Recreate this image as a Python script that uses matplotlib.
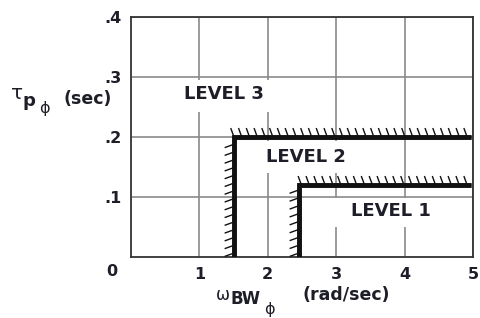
import matplotlib
matplotlib.use("Agg")
import matplotlib.pyplot as plt
import matplotlib.patheffects as pe
from matplotlib.patches import Rectangle

# ---- data ----
x_ticks = [1, 2, 3, 4, 5]
x_tick_labels = ["1", "2", "3", "4", "5"]
y_ticks = [0.1, 0.2, 0.3, 0.4]
y_tick_labels = [".1", ".2", ".3", ".4"]

level2_x = [1.5, 1.5, 4.97]
level2_y = [0.0, 0.20, 0.20]
level1_x = [2.45, 2.45, 4.97]
level1_y = [0.0, 0.12, 0.12]

level_labels = ["LEVEL 3", "LEVEL 2", "LEVEL 1"]
level_label_x = [1.36, 2.56, 3.80]
level_label_y = [0.271, 0.167, 0.0765]

TXT = "#1e1e28"
W, H = 481, 318

fig = plt.figure(figsize=(W / 100, H / 100), dpi=100)
ax = fig.add_axes([131 / W, 1 - 257 / H, (473 - 131) / W, (257 - 17) / H])
ax.set_xlim(0, 5)
ax.set_ylim(0, 0.4)
ax.set_xticks(x_ticks)
ax.set_xticklabels(x_tick_labels)
ax.set_yticks(y_ticks)
ax.set_yticklabels(y_tick_labels)
ax.tick_params(axis="x", length=0, pad=7.5, labelsize=11.5, labelcolor=TXT)
ax.tick_params(axis="y", length=0, pad=6.5, labelsize=11.5, labelcolor=TXT)
for lab in ax.get_xticklabels() + ax.get_yticklabels():
    lab.set_fontweight("bold")
ax.set_axisbelow(True)
ax.grid(True, color="#8a8a8a", linewidth=1.2)
for sp in ax.spines.values():
    sp.set_color("#333333")
    sp.set_linewidth(1.3)

# white backgrounds behind the level labels (hide grid)
for (x0, y0, x1, y1) in [(0.54, 0.2417, 2.18, 0.295),
                         (1.74, 0.14, 3.38, 0.193),
                         (2.84, 0.05, 4.62, 0.098)]:
    ax.add_patch(Rectangle((x0, y0), x1 - x0, y1 - y0, facecolor="white",
                           edgecolor="none", zorder=1))

# boundaries with hatch ticks
for xs, ys in [(level2_x, level2_y), (level1_x, level1_y)]:
    ax.plot(xs, ys, color="#111111", linewidth=3.3, solid_joinstyle="miter",
            solid_capstyle="butt", zorder=4,
            path_effects=[pe.withTickedStroke(angle=110, spacing=5.5, length=1.25,
                                              linewidth=1.0),
                          pe.Normal()])

for t, x, y in zip(level_labels, level_label_x, level_label_y):
    ax.text(x, y, t, ha="center", va="center", fontsize=13, fontweight="bold",
            color=TXT, zorder=5)

# origin label
fig.text(112 / W, 1 - 272 / H, "0", ha="center", va="center", fontsize=11.5,
         fontweight="bold", color=TXT)

# y label pieces
fig.text(17 / W, 1 - 93 / H, "τ", ha="center", va="center", fontsize=14.5, color=TXT)
fig.text(29 / W, 1 - 101 / H, "p", ha="center", va="center", fontsize=13,
         fontweight="bold", color=TXT)
fig.text(44 / W, 1 - 108.5 / H, "ϕ", ha="center", va="center", fontsize=11.5, color=TXT)
fig.text(88 / W, 1 - 99 / H, "(sec)", ha="center", va="center", fontsize=12.5,
         fontweight="bold", color=TXT)

# x label pieces
fig.text(223 / W, 1 - 295 / H, "ω", ha="center", va="center", fontsize=12, color=TXT)
fig.text(246 / W, 1 - 299 / H, "BW", ha="center", va="center", fontsize=12,
         fontweight="bold", color=TXT)
fig.text(269.5 / W, 1 - 309.5 / H, "ϕ", ha="center", va="center", fontsize=11.5, color=TXT)
fig.text(346.5 / W, 1 - 295 / H, "(rad/sec)", ha="center", va="center", fontsize=12.5,
         fontweight="bold", color=TXT)

fig.savefig("out.png", dpi=100, facecolor="white")
